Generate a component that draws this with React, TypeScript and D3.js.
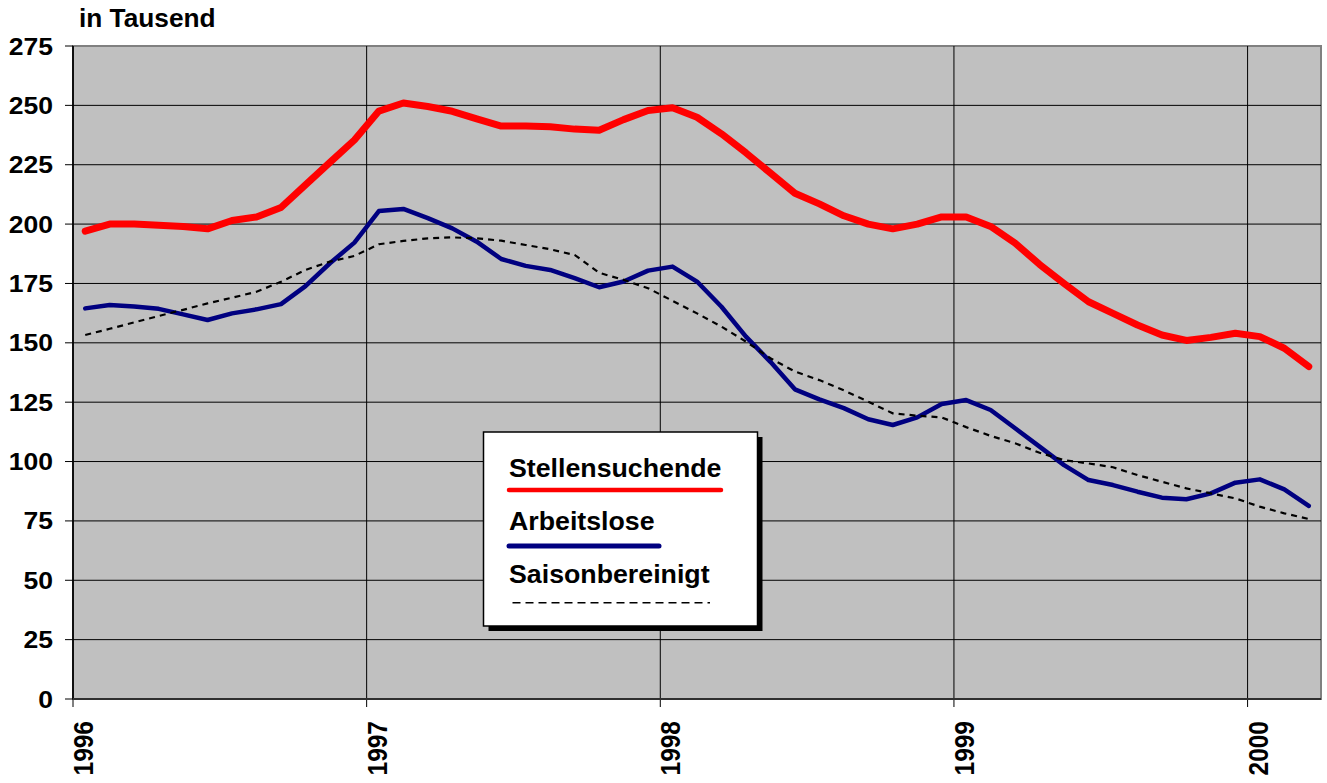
import React from "react";
import * as d3 from "d3";

const stellensuchende = [197, 200, 200, 199.5, 199, 198, 201.5, 203, 207, 216.5, 226, 235.4, 247.6, 251, 249.5, 247.5, 244.3, 241.3, 241.3, 241, 240, 239.5, 244, 247.8, 249, 245, 238, 230, 221.5, 213, 208.5, 203.5, 200, 198, 200, 203, 203, 199, 192, 183, 175, 167.3, 162.4, 157.5, 153.3, 151, 152.3, 154, 152.6, 147.7, 140];
const arbeitslose = [164.5, 165.9, 165.3, 164.3, 162, 159.6, 162.4, 164.1, 166.3, 173.9, 183.5, 192.2, 205.5, 206.4, 202.5, 198.2, 192.6, 185.3, 182.4, 180.7, 177.2, 173.4, 175.8, 180.4, 182.1, 175.8, 165.2, 152.6, 142, 130.4, 126.2, 122.5, 117.8, 115.4, 118.6, 124.2, 125.9, 121.7, 114, 106.3, 98.5, 92.2, 90.1, 87.3, 84.8, 84.1, 86.6, 91.1, 92.5, 88.3, 81.3];
const saisonbereinigt = [153.3, 155.9, 158.6, 161.3, 163.9, 166.6, 169, 171.5, 175.7, 180.7, 184.2, 186.6, 191.5, 192.9, 194, 194.4, 194, 193, 191.2, 189.4, 187, 179.5, 176.5, 173, 167.7, 162.4, 156.8, 150.5, 143.5, 137.9, 134.3, 130, 125.2, 120.3, 119.3, 118.6, 114.5, 110.8, 107.7, 103.7, 100.6, 99.2, 97.6, 94.3, 91.5, 88.7, 86.6, 84.5, 81, 78.2, 75.8];
const yearLabels = ["1996", "1997", "1998", "1999", "2000"];
const yTicks = [0, 25, 50, 75, 100, 125, 150, 175, 200, 225, 250, 275];
const legendLabels = ["Stellensuchende", "Arbeitslose", "Saisonbereinigt"];

const FONT = "'Liberation Sans', Arial, Helvetica, sans-serif";

export default function App() {
  const left = 73, right = 1321, top = 46, bottom = 699;
  const n = stellensuchende.length;
  const x = d3.scaleLinear().domain([0, n]).range([left, right]);
  const y = d3.scaleLinear().domain([0, 275]).range([bottom, top]);
  const line = d3.line<number>().x((_, i) => x(i + 0.5)).y((d) => y(d));

  return (
    <svg width={1327} height={783} style={{ position: "absolute", left: 0, top: 0 }}>
      <rect x={0} y={0} width={1327} height={783} fill="#fff" />
      <rect x={left} y={top} width={right - left} height={bottom - top} fill="#C0C0C0" stroke="#808080" strokeWidth={2} />
      {yTicks.filter((t) => t > 0 && t < 275).map((t) => (
        <line key={"g" + t} x1={left} x2={right} y1={y(t)} y2={y(t)} stroke="#000" strokeWidth={1} />
      ))}
      {yearLabels.map((lab, k) => (
        <line key={"v" + lab} x1={x(k * 12)} x2={x(k * 12)} y1={top} y2={bottom + 8} stroke="#000" strokeWidth={1} />
      ))}
      <line x1={left} x2={left} y1={top} y2={bottom} stroke="#000" strokeWidth={1.5} />
      <line x1={left} x2={right} y1={bottom} y2={bottom} stroke="#303030" strokeWidth={2} />
      {yTicks.map((t) => (
        <g key={"t" + t}>
          <line x1={left - 8} x2={left} y1={y(t)} y2={y(t)} stroke="#000" strokeWidth={1} />
          <text transform={`translate(53,${y(t) + 8.5}) scale(1.13,1)`} textAnchor="end" fontFamily={FONT} fontWeight="bold" fontSize={23.5} fill="#000">{t}</text>
        </g>
      ))}
      {yearLabels.map((lab, k) => (
        <text key={"yl" + lab} transform={`translate(${x(k * 12) + 20},721) scale(1.15,1) rotate(-90)`} textAnchor="end" fontFamily={FONT} fontWeight="bold" fontSize={24.5} fill="#000">{lab}</text>
      ))}
      <text transform="translate(79,26.7) scale(1.05,1)" fontFamily={FONT} fontWeight="bold" fontSize={25} fill="#000">in Tausend</text>

      <path d={line(stellensuchende) || ""} fill="none" stroke="#FF0000" strokeWidth={7} strokeLinejoin="round" strokeLinecap="round" />
      <path d={line(arbeitslose) || ""} fill="none" stroke="#000080" strokeWidth={4.5} strokeLinejoin="round" strokeLinecap="round" />
      <path d={line(saisonbereinigt) || ""} fill="none" stroke="#000" strokeWidth={2.2} strokeDasharray="6,5" />

      <rect x={488.5} y={437} width={274} height={194} fill="#000" />
      <rect x={483.5} y={432} width={274} height={194} fill="#fff" stroke="#000" strokeWidth={1.5} />
      <text transform="translate(509,477.3) scale(1.07,1)" fontFamily={FONT} fontWeight="bold" fontSize={25} fill="#000">{legendLabels[0]}</text>
      <line x1={509} x2={721} y1={490} y2={490} stroke="#FF0000" strokeWidth={4.5} strokeLinecap="round" />
      <text transform="translate(509,530) scale(1.07,1)" fontFamily={FONT} fontWeight="bold" fontSize={25} fill="#000">{legendLabels[1]}</text>
      <line x1={509} x2={659} y1={546} y2={546} stroke="#000080" strokeWidth={5} strokeLinecap="round" />
      <text transform="translate(509,583) scale(1.07,1)" fontFamily={FONT} fontWeight="bold" fontSize={25} fill="#000">{legendLabels[2]}</text>
      <line x1={512.5} x2={710} y1={602.7} y2={602.7} stroke="#000" strokeWidth={1.5} strokeDasharray="8,5" />
    </svg>
  );
}
